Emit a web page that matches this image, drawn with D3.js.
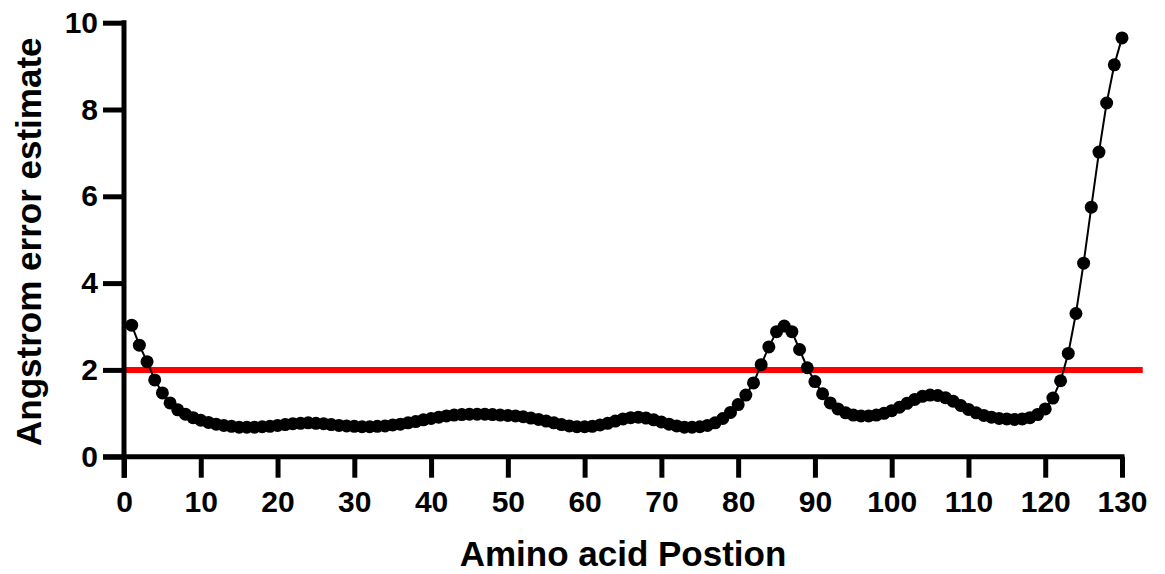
<!DOCTYPE html>
<html>
<head>
<meta charset="utf-8">
<script src="https://cdn.jsdelivr.net/npm/d3@7"></script>
<style>
  html, body { margin: 0; padding: 0; background: #fff; }
  svg { display: block; }
  text { font-family: "Liberation Sans", Arial, sans-serif; font-weight: bold; fill: #000; }
</style>
</head>
<body>
<svg id="chart" width="1165" height="574"></svg>
<script>
// ---- data ----
const positions = d3.range(1, 131);
const errorEstimate = [
  3.03, 2.57, 2.19, 1.77, 1.47, 1.24, 1.08, 0.98, 0.90, 0.84,
  0.79, 0.75, 0.72, 0.70, 0.68, 0.68, 0.68, 0.69, 0.70, 0.72,
  0.74, 0.76, 0.77, 0.78, 0.77, 0.76, 0.74, 0.72, 0.71, 0.70,
  0.69, 0.69, 0.70, 0.71, 0.73, 0.75, 0.78, 0.81, 0.85, 0.88,
  0.91, 0.94, 0.96, 0.97, 0.98, 0.98, 0.98, 0.97, 0.96, 0.95,
  0.94, 0.92, 0.89, 0.86, 0.82, 0.78, 0.74, 0.71, 0.69, 0.69,
  0.70, 0.73, 0.77, 0.82, 0.87, 0.90, 0.91, 0.89, 0.85, 0.80,
  0.75, 0.71, 0.68, 0.68, 0.69, 0.72, 0.78, 0.88, 1.02, 1.20,
  1.42, 1.70, 2.12, 2.53, 2.88, 3.01, 2.88, 2.47, 2.05, 1.73,
  1.45, 1.24, 1.10, 1.01, 0.96, 0.94, 0.94, 0.96, 1.00, 1.06,
  1.14, 1.23, 1.32, 1.39, 1.42, 1.41, 1.36, 1.28, 1.18, 1.09,
  1.01, 0.95, 0.91, 0.88, 0.87, 0.86, 0.87, 0.90, 0.97, 1.10,
  1.35, 1.75, 2.38, 3.30, 4.46, 5.75, 7.02, 8.15, 9.03, 9.65
];
const xTicks = [0, 10, 20, 30, 40, 50, 60, 70, 80, 90, 100, 110, 120, 130];
const yTicks = [0, 2, 4, 6, 8, 10];
const thresholdValue = 2;
const thresholdExtent = [0, 132.7];
const xTitle = "Amino acid Postion";
const yTitle = "Angstrom error estimate";

const points = positions.map((p, i) => ({ x: p, y: errorEstimate[i] }));

// ---- layout ----
const svg = d3.select("#chart");
const x = d3.scaleLinear().domain([0, 130]).range([124, 1122]);
const y = d3.scaleLinear().domain([0, 10]).range([456.7, 22.7]);
const tickLen = 21;
const axisW = 5;
const tickFont = 30;

// threshold line (under data)
svg.append("line")
  .attr("x1", x(thresholdExtent[0])).attr("x2", x(thresholdExtent[1]))
  .attr("y1", y(thresholdValue)).attr("y2", y(thresholdValue))
  .attr("stroke", "#ff0000").attr("stroke-width", 6);

// x axis
const xAxis = d3.axisBottom(x).tickValues(xTicks).tickSize(tickLen).tickSizeOuter(0).tickPadding(13);
const gx = svg.append("g").attr("transform", `translate(0,${y(0)})`).call(xAxis);
gx.select(".domain").remove();
gx.selectAll(".tick line").attr("stroke", "#000").attr("stroke-width", axisW);
gx.selectAll(".tick text").attr("font-size", tickFont).attr("font-weight", "bold")
  .attr("font-family", "'Liberation Sans', Arial, sans-serif").attr("fill", "#000");
gx.append("line")
  .attr("x1", x(0) - tickLen).attr("x2", x(130) + axisW / 2)
  .attr("y1", 0).attr("y2", 0)
  .attr("stroke", "#000").attr("stroke-width", axisW);

// y axis
const yAxis = d3.axisLeft(y).tickValues(yTicks).tickSize(tickLen).tickSizeOuter(0).tickPadding(5);
const gy = svg.append("g").attr("transform", `translate(${x(0)},0)`).call(yAxis);
gy.select(".domain").remove();
gy.selectAll(".tick line").attr("stroke", "#000").attr("stroke-width", axisW);
gy.selectAll(".tick text").attr("font-size", tickFont).attr("font-weight", "bold")
  .attr("font-family", "'Liberation Sans', Arial, sans-serif").attr("fill", "#000");
gy.append("line")
  .attr("x1", 0).attr("x2", 0)
  .attr("y1", y(10) - axisW / 2).attr("y2", y(0) + tickLen)
  .attr("stroke", "#000").attr("stroke-width", axisW);

// data line + points
svg.append("path")
  .datum(points)
  .attr("fill", "none")
  .attr("stroke", "#000")
  .attr("stroke-width", 2)
  .attr("d", d3.line().x(d => x(d.x)).y(d => y(d.y)));

svg.append("g").selectAll("circle")
  .data(points)
  .join("circle")
  .attr("cx", d => x(d.x))
  .attr("cy", d => y(d.y))
  .attr("r", 6.5)
  .attr("fill", "#000");

// titles
svg.append("text")
  .attr("x", (x(0) + x(130)) / 2).attr("y", 566)
  .attr("text-anchor", "middle").attr("font-size", 35)
  .text(xTitle);

svg.append("text")
  .attr("transform", `translate(41,${(y(0) + y(10)) / 2 + 2}) rotate(-90)`)
  .attr("text-anchor", "middle").attr("font-size", 35)
  .text(yTitle);
</script>
</body>
</html>
